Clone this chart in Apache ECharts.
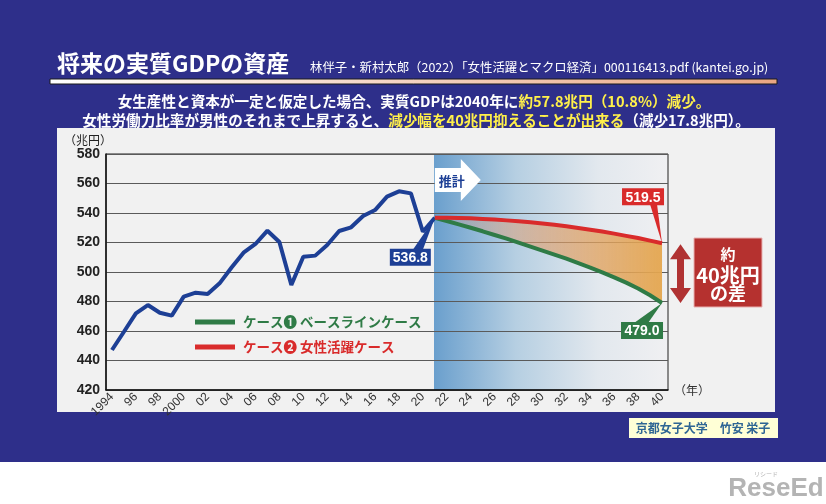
<!DOCTYPE html>
<html><head><meta charset="utf-8">
<script src="https://cdn.jsdelivr.net/npm/echarts@6/dist/echarts.min.js"></script>
<style>
html,body{margin:0;padding:0;background:#fff}
#wrap{position:relative;width:826px;height:504px;overflow:hidden}
#navy{position:absolute;left:0;top:0;width:826px;height:462px;background:#2e2f8a}
#panel{position:absolute;left:57px;top:128px;width:718px;height:284px;background:#f1f1f1}
#shade{position:absolute;background:linear-gradient(to right,#6a9fcd 0%,#b6cfe2 35%,#e2e8ee 70%,#f0f0f2 100%)}
.gl{position:absolute;height:1px;background:#5a5a5a}
#c{position:absolute;left:0;top:0;width:826px;height:504px}
</style>
</head><body><div id="wrap"><div id="navy"></div><div id="panel"></div><div id="shade"></div><div id="c"></div></div>
<script>
const years = ['1994','1995','1996','1997','1998','1999','2000','2001','2002','2003','2004','2005','2006','2007','2008','2009','2010','2011','2012','2013','2014','2015','2016','2017','2018','2019','2020','2021','2022','2023','2024','2025','2026','2027','2028','2029','2030','2031','2032','2033','2034','2035','2036','2037','2038','2039','2040'];
const historyGDP = [447.1,459.5,472.0,477.6,472.4,470.4,483.3,486.0,485.1,492.3,503.0,513.1,519.0,528.0,520.3,491.2,510.4,511.1,518.3,527.8,530.3,538.0,542.0,551.1,554.7,553.3,527.3,536.8];
const case2Women = [536.8,536.7,536.6,536.4,536.0,535.6,535.0,534.4,533.7,532.9,532.0,531.0,529.9,528.7,527.4,526.0,524.5,523.0,521.3,519.5];
const case1Base = [536.8,534.6,532.3,530.0,527.6,525.1,522.6,519.9,517.2,514.5,511.8,509.0,506.0,503.0,499.8,496.4,492.8,488.8,484.2,479.0];
const yTickValues = [420,440,460,480,500,520,540,560,580];
const name1 = 'ケース❶ ベースラインケース';
const name2 = 'ケース❷ 女性活躍ケース';

const FONT = '"Noto Sans CJK JP", "Noto Sans", sans-serif';
const BLUE = '#1d3f95', RED = '#d92b2b', GREEN = '#2f7b46';

const nHist = historyGDP.length;
const startIdx = nHist - 1;
const pad = (n) => Array(n).fill(null);
const histData = historyGDP.concat(pad(years.length - nHist));
const c1Data = pad(startIdx).concat(case1Base);
const c2Data = pad(startIdx).concat(case2Women);
const diffData = pad(startIdx).concat(case2Women.map((v,i)=> +(v - case1Base[i]).toFixed(2)));
const yMin = yTickValues[0], yMax = yTickValues[yTickValues.length-1], yStep = yTickValues[1]-yTickValues[0];

const chart = echarts.init(document.getElementById('c'), null, {renderer:'canvas'});

const option = {
  animation:false,
  backgroundColor:'transparent',
  textStyle:{fontFamily:FONT},
  grid:{left:106,right:158,top:154,bottom:114,show:true,borderColor:'#222',borderWidth:1,backgroundColor:'transparent'},
  legend:{
    left:195, top:313, padding:0, orient:'vertical', itemWidth:40, itemHeight:5, itemGap:7, icon:'rect', selectedMode:false,
    textStyle:{fontSize:13.5, fontWeight:'bold', fontFamily:FONT, lineHeight:18, padding:[0,0,0,3]},
    data:[{name:name1,textStyle:{color:GREEN}},{name:name2,textStyle:{color:RED}}]
  },
  xAxis:{
    type:'category', data:years, boundaryGap:true,
    name:'（年）', nameLocation:'end', nameGap:6,
    nameTextStyle:{color:'#333',fontSize:12,padding:[16,0,0,0]},
    axisLine:{lineStyle:{color:'#111',width:1.5}},
    axisTick:{alignWithLabel:true, interval:1, inside:true, length:4, lineStyle:{color:'#111'}},
    axisLabel:{interval:1, rotate:45, fontSize:12, color:'#333', margin:5, fontFamily:'"Liberation Sans", Arial, sans-serif',
      formatter:(v)=> (v==='1994'||v==='2000') ? v : v.slice(2)},
    splitLine:{show:false}
  },
  yAxis:{
    type:'value', min:yMin, max:yMax, interval:yStep,
    name:'（兆円）', nameLocation:'end', nameGap:8,
    nameTextStyle:{color:'#222',fontSize:12,align:'right',padding:[0,-6,0,0]},
    axisLine:{show:true,lineStyle:{color:'#111',width:1.5}},
    axisTick:{show:false},
    axisLabel:{fontSize:14, fontWeight:'bold', color:'#222', margin:6, fontFamily:'"Liberation Sans", Arial, sans-serif'},
    splitLine:{show:true, lineStyle:{color:'#5a5a5a',width:1}}
  },
  series:[
    {type:'line', name:'base', data:c1Data, stack:'band', symbol:'none', lineStyle:{opacity:0}, z:4, silent:true},
    {type:'line', name:'diff', data:diffData, stack:'band', symbol:'none', lineStyle:{opacity:0}, z:4, silent:true,
      areaStyle:{opacity:1, color:{type:'linear',x:0,y:0,x2:1,y2:0,colorStops:[
        {offset:0,color:'rgba(220,150,120,0.15)'},{offset:0.45,color:'rgba(222,158,110,0.6)'},{offset:1,color:'rgba(228,166,78,0.95)'}]}}},
    {type:'line', name:'実績', data:histData, symbol:'none', z:8, lineStyle:{color:BLUE,width:4}, itemStyle:{color:BLUE}},
    {type:'line', name:name1, data:c1Data, symbol:'none', z:9, lineStyle:{color:GREEN,width:4}, itemStyle:{color:GREEN}},
    {type:'line', name:name2, data:c2Data, symbol:'none', z:10, lineStyle:{color:RED,width:4}, itemStyle:{color:RED}}
  ]
};
chart.setOption(option);

const px = (i, v) => chart.convertToPixel({xAxisIndex:0,yAxisIndex:0},[years[i], v]);
const pHist = px(startIdx, historyGDP[nHist-1]);
const pRed = px(years.length-1, case2Women[case2Women.length-1]);
const pGreen = px(years.length-1, case1Base[case1Base.length-1]);
const gridRight = 826 - 158, gridTop = 154, gridBottom = 504 - 114;

const sh = document.getElementById('shade');
sh.style.left = (pHist[0]-1)+'px'; sh.style.top = gridTop+'px';
sh.style.width = (gridRight-pHist[0]+1)+'px'; sh.style.height = (gridBottom-gridTop)+'px';
// grid lines across the shaded projection band (beneath the chart canvas)
const wrap = document.getElementById('wrap');
yTickValues.slice(1,-1).forEach(v=>{
  const y = chart.convertToPixel({yAxisIndex:0}, v);
  const d = document.createElement('div'); d.className='gl';
  d.style.left=(pHist[0]-1)+'px'; d.style.width=(gridRight-pHist[0]+1)+'px'; d.style.top=Math.floor(y)+'px';
  wrap.insertBefore(d, document.getElementById('c'));
});

function callout(box, tail, color, text, z){
  return [
    {type:'polygon', z:z, shape:{points:tail}, style:{fill:color}},
    {type:'rect', z:z, shape:{x:box[0],y:box[1],width:box[2],height:box[3]}, style:{fill:color}},
    {type:'text', z:z+1, x:box[0]+box[2]/2, y:box[1]+box[3]/2+1, style:{text:text, fill:'#fff', font:'bold 14px "Liberation Sans", Arial, sans-serif', textAlign:'center', textVerticalAlign:'middle'}}
  ];
}

const g = [];
g.push({type:'text', z:10, x:57, y:63, style:{text:'将来の実質GDPの資産', fill:'#fff', font:'bold 23px '+FONT, textVerticalAlign:'middle'}});
g.push({type:'text', z:10, x:310, y:67, style:{text:'林伴子・新村太郎（2022）「女性活躍とマクロ経済」000116413.pdf (kantei.go.jp)', fill:'#fff', font:'12.4px '+FONT, textVerticalAlign:'middle'}});
g.push({type:'rect', z:10, shape:{x:50,y:79,width:727,height:5}, style:{stroke:'#1a1a1a',lineWidth:1,fill:{type:'linear',x:0,y:0,x2:1,y2:0,colorStops:[{offset:0,color:'#ffffff'},{offset:1,color:'#eaa683'}]}}});
g.push({type:'text', z:10, x:414, y:101, style:{
  text:'{w|女生産性と資本が一定と仮定した場合、実質GDPは2040年に}{y|約57.8兆円（10.8%）減少。}',
  textAlign:'center', textVerticalAlign:'middle',
  rich:{w:{fill:'#fff',font:'bold 14.6px '+FONT},y:{fill:'#fff04a',font:'bold 14.6px '+FONT}}}});
g.push({type:'text', z:10, x:416, y:120, style:{
  text:'{w|女性労働力比率が男性のそれまで上昇すると、}{y|減少幅を40兆円抑えることが出来る}{w|（減少17.8兆円）。}',
  textAlign:'center', textVerticalAlign:'middle',
  rich:{w:{fill:'#fff',font:'bold 14.6px '+FONT},y:{fill:'#fff04a',font:'bold 14.6px '+FONT}}}});
const ax = pHist[0];
g.push({type:'polygon', z:20, shape:{points:[[ax,gridTop+14],[ax+26,gridTop+14],[ax+26,gridTop+5],[ax+46,gridTop+26],[ax+26,gridTop+47],[ax+26,gridTop+38],[ax,gridTop+38]]}, style:{fill:'#ffffff'}});
g.push({type:'text', z:21, x:ax+17, y:gridTop+27, style:{text:'推計', fill:BLUE, font:'bold 13px '+FONT, textAlign:'center', textVerticalAlign:'middle'}});
g.push(...callout([pHist[0]-45,pHist[1]+31,41,17],[[pHist[0]-22,pHist[1]+32],[pHist[0]-12,pHist[1]+32],[pHist[0],pHist[1]]],BLUE,historyGDP[nHist-1].toFixed(1),22));
g.push(...callout([pRed[0]-40,pRed[1]-55,42,17],[[pRed[0]-12,pRed[1]-39],[pRed[0]-5,pRed[1]-39],[pRed[0],pRed[1]]],RED,case2Women[case2Women.length-1].toFixed(1),22));
g.push(...callout([pGreen[0]-41,pGreen[1]+19,42,17],[[pGreen[0]-28,pGreen[1]+20],[pGreen[0]-14,pGreen[1]+20],[pGreen[0],pGreen[1]]],GREEN,case1Base[case1Base.length-1].toFixed(1),22));
const dax = gridRight + 12.5, t = pRed[1]+1, b = pGreen[1];
g.push({type:'polygon', z:20, shape:{points:[[dax,t],[dax+10.5,t+15],[dax+3.5,t+15],[dax+3.5,b-15],[dax+10.5,b-15],[dax,b],[dax-10.5,b-15],[dax-3.5,b-15],[dax-3.5,t+15],[dax-10.5,t+15]]}, style:{fill:'#b03232'}});
g.push({type:'rect', z:20, shape:{x:694,y:238,width:68,height:69}, style:{fill:'#b5312f',stroke:'#e8b0b0',lineWidth:1}});
g.push({type:'text', z:21, x:728, y:254, style:{text:'約', fill:'#fff', font:'bold 15px '+FONT, textAlign:'center', textVerticalAlign:'middle'}});
g.push({type:'text', z:21, x:728, y:275, style:{text:'40兆円', fill:'#fff', font:'bold 20px '+FONT, textAlign:'center', textVerticalAlign:'middle'}});
g.push({type:'text', z:21, x:728, y:293, style:{text:'の差', fill:'#fff', font:'bold 18px '+FONT, textAlign:'center', textVerticalAlign:'middle'}});
g.push({type:'rect', z:20, shape:{x:629,y:418,width:149,height:20}, style:{fill:'#ffffd6'}});
g.push({type:'text', z:21, x:703, y:428, style:{text:'京都女子大学　竹安 栄子', fill:'#2f6694', font:'bold 12px '+FONT, textAlign:'center', textVerticalAlign:'middle'}});
g.push({type:'text', z:21, x:776, y:489, style:{text:'ReseEd', fill:'#b4b4b4', font:'bold 26px "Liberation Sans", Arial, sans-serif', textAlign:'center', textVerticalAlign:'middle'}});
g.push({type:'text', z:21, x:766, y:474, style:{text:'リシード', fill:'#b4b4b4', font:'6px '+FONT, textAlign:'center', textVerticalAlign:'middle'}});

chart.setOption({graphic:{elements:g}});
</script></body></html>
